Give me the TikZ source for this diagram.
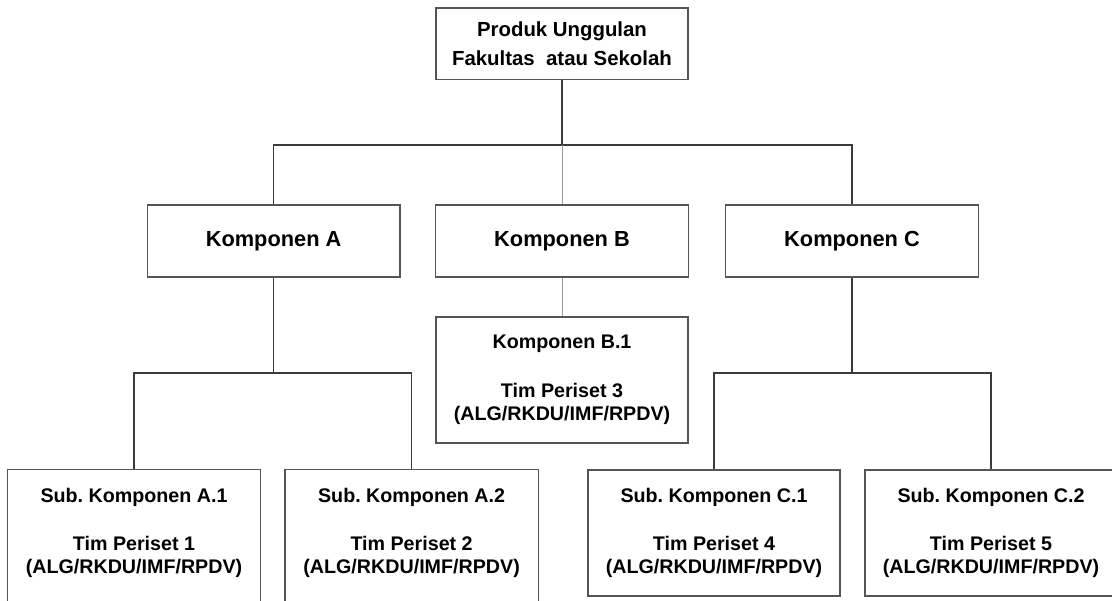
\documentclass[tikz,border=0pt]{standalone}
\usepackage{fontspec}
\setmainfont{Liberation Sans}
\frenchspacing
\definecolor{garis}{HTML}{3A3A3A}
\definecolor{bingkai}{HTML}{555555}
\definecolor{garistipis}{HTML}{9A9A9A}

\begin{document}
\begin{tikzpicture}[
    kotak/.style={draw=bingkai, line width=0.9pt, align=center, inner sep=0pt},
    utama/.style={kotak, minimum width=6.3cm, minimum height=1.78cm, font=\fontsize{14.5}{21}\selectfont\bfseries},
    komp/.style={kotak, minimum width=6.32cm, minimum height=1.8cm, font=\fontsize{15.5}{18}\selectfont\bfseries},
    sub/.style={kotak, minimum width=6.3cm, minimum height=3.15cm, font=\fontsize{14}{16.5}\selectfont\bfseries},
    hubung/.style={draw=garis, line width=0.9pt},
    hubungtipis/.style={draw=garistipis, line width=0.7pt}]

    \useasboundingbox (0,0) rectangle (27.8,15);

    % Kotak utama
    \node[utama] (prod) at (14.05,13.91) {Produk Unggulan\\Fakultas\ \ atau Sekolah};

    % Komponen
    \node[komp] (kA) at (6.84,8.975) {Komponen A};
    \node[komp] (kB) at (14.05,8.975) {Komponen B};
    \node[komp] (kC) at (21.3,8.975) {Komponen C};
    \node[sub] (kB1) at (14.05,5.5) {Komponen B.1\\[18pt]Tim Periset 3\\(ALG/RKDU/IMF/RPDV)};

    % Sub komponen
    \node[sub, draw=none] (sA1) at (3.35,1.675) {Sub. Komponen A.1\\[18pt]Tim Periset 1\\(ALG/RKDU/IMF/RPDV)};
    \node[sub, draw=none] (sA2) at (10.29,1.675) {Sub. Komponen A.2\\[18pt]Tim Periset 2\\(ALG/RKDU/IMF/RPDV)};
    \node[sub] (sC1) at (17.85,1.675) {Sub. Komponen C.1\\[18pt]Tim Periset 4\\(ALG/RKDU/IMF/RPDV)};
    \node[sub] (sC2) at (24.775,1.675) {Sub. Komponen C.2\\[18pt]Tim Periset 5\\(ALG/RKDU/IMF/RPDV)};
    \foreach \s in {sA1,sA2}
        \draw[draw=bingkai, line width=0.9pt] ([yshift=-0.6cm]\s.south west) |- (\s.north east) -- ++(0,-3.8);

    % Garis penghubung
    \coordinate (cabang) at (14.05,11.375);
    \coordinate (cabangA) at (6.84,5.675);
    \coordinate (cabangC) at (21.3,5.675);
    \draw[hubung] (prod.south) -- (cabang);
    \draw[hubung] (kA.north) |- (cabang) -| (kC.north);
    \draw[hubungtipis] (cabang) -- (kB.north);
    \draw[hubungtipis] (kB.south) -- (kB1.north);
    \draw[hubung] (kA.south) -- (cabangA);
    \draw[hubung] (sA1.north) |- (cabangA) -| (sA2.north);
    \draw[hubung] (kC.south) -- (cabangC);
    \draw[hubung] (sC1.north) |- (cabangC) -| (sC2.north);
\end{tikzpicture}
\end{document}
